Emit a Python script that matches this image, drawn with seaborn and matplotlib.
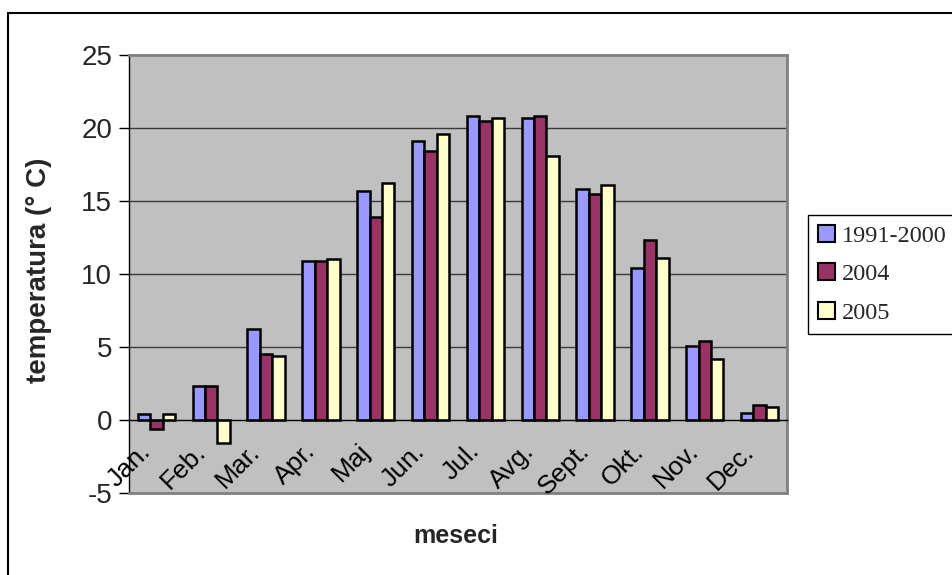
import numpy as np
import pandas as pd
import matplotlib
matplotlib.use("Agg")
import matplotlib.pyplot as plt
import seaborn as sns
from matplotlib.patches import Rectangle
from matplotlib.lines import Line2D

# Monthly mean air temperature (°C)
months = ["Jan.", "Feb.", "Mar.", "Apr.", "Maj", "Jun.", "Jul.", "Avg.",
          "Sept.", "Okt.", "Nov.", "Dec."]
t_1991_2000 = [0.4, 2.3, 6.2, 10.9, 15.7, 19.1, 20.8, 20.7, 15.8, 10.4, 5.1, 0.5]
t_2004 = [-0.6, 2.3, 4.5, 10.9, 13.9, 18.4, 20.5, 20.8, 15.5, 12.3, 5.4, 1.0]
t_2005 = [0.4, -1.6, 4.4, 11.0, 16.2, 19.6, 20.7, 18.1, 16.1, 11.1, 4.2, 0.9]
series = ["1991-2000", "2004", "2005"]
colors = ["#9999FF", "#993366", "#FFFFCC"]
yticks = [-5, 0, 5, 10, 15, 20, 25]

df = pd.DataFrame({
    "mesec": months * 3,
    "temperatura": t_1991_2000 + t_2004 + t_2005,
    "period": [s for s in series for _ in months],
})

sns.set_style("white")
plt.rcParams["font.family"] = ["Liberation Sans", "DejaVu Sans"]

W, H = 952, 575
fig = plt.figure(figsize=(W / 100, H / 100), dpi=100)
fig.patch.set_facecolor("white")

L, R, T, B = 129, 787, 55, 493
ax = fig.add_axes([L / W, 1 - B / H, (R - L) / W, (B - T) / H])
ax.set_facecolor("#C0C0C0")

sns.barplot(data=df, x="mesec", y="temperatura", hue="period",
            palette=colors, saturation=1, width=0.68,
            edgecolor="black", linewidth=1.8, ax=ax, legend=False)

ax.set_xlim(-0.5, 11.5)
ax.set_ylim(-5, 25)

# horizontal gridlines
for y in [5, 10, 15, 20]:
    ax.axhline(y, color="#3a3a3a", lw=1.0, zorder=0.5)

# spines: category axis crosses at zero
for s in ["top", "right"]:
    ax.spines[s].set_color("#808080")
    ax.spines[s].set_linewidth(2)
ax.spines["left"].set_color("black")
ax.spines["left"].set_linewidth(1)
ax.spines["bottom"].set_position(("data", 0))
ax.spines["bottom"].set_color("black")
ax.spines["bottom"].set_linewidth(1)
ax.add_line(Line2D([0, 1], [0, 0], transform=ax.transAxes,
                   color="#808080", lw=2, clip_on=False, zorder=3))

ax.set_xticks(np.arange(-0.5, 12, 1))
ax.set_xticklabels([""] * 13)
ax.tick_params(axis="x", direction="out", length=7, width=1, color="black")
for i, m in enumerate(months):
    ax.text(i - 0.33, -1.3, m, rotation=45, ha="right", va="top",
            rotation_mode="anchor", fontsize=19, color="black")

ax.set_yticks(yticks)
ax.set_yticklabels([str(v) for v in yticks])
ax.tick_params(axis="y", direction="out", length=7, width=1, color="black",
               labelsize=20, pad=5, left=True)
ax.set_xlabel("")
ax.set_ylabel("")

fig.text(39 / W, 1 - 270 / H, "temperatura (° C)", rotation=90,
         ha="center", va="center", fontsize=20, fontweight="bold")
fig.text(456 / W, 1 - 536 / H, "meseci", ha="center", va="center",
         fontsize=18, fontweight="bold")

handles = [Rectangle((0, 0), 1, 1, facecolor=c, edgecolor="black", lw=1.5)
           for c in colors]
leg = fig.legend(handles, series, loc="upper left",
                 bbox_to_anchor=(808 / W, 1 - 215 / H),
                 prop={"family": ["Liberation Serif"], "size": 17.5},
                 frameon=True, fancybox=False, edgecolor="black",
                 framealpha=1, borderaxespad=0, handlelength=0.7,
                 handleheight=0.7, handletextpad=0.3, labelspacing=0.68,
                 borderpad=0.4)
leg.get_frame().set_linewidth(1)

# outer chart border
fig.add_artist(Line2D([8 / W, 8 / W], [0, 1 - 13 / H], color="black", lw=1.5))
fig.add_artist(Line2D([8 / W, 1], [1 - 13 / H, 1 - 13 / H], color="black", lw=1.5))

fig.savefig("out.png", dpi=100)
